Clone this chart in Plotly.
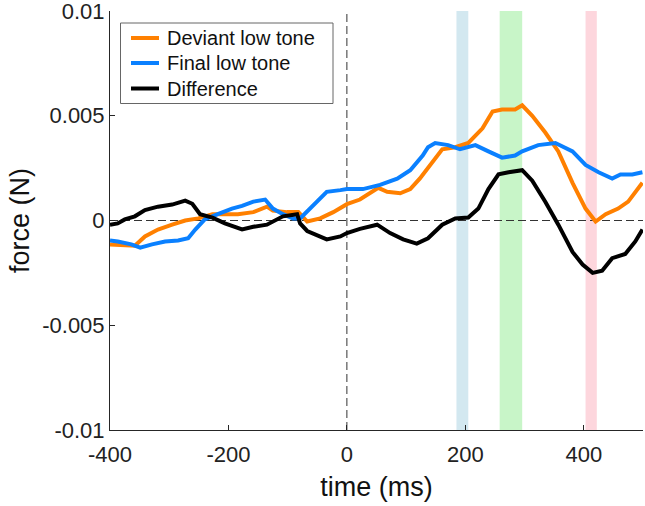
import plotly.graph_objects as go

# Deviant low tone (orange)
dev_x = [-400, -380, -358, -341, -319, -295, -273, -251, -227, -206, -184, -158, -135, -125, -101, -82, -67, -45, -23, 0, 22, 53, 68, 90, 107, 123, 140, 161, 183, 205, 229, 246, 262, 284, 296, 313, 335, 357, 381, 403, 420, 437, 458, 475, 499]
dev_y = [-0.00114, -0.00118, -0.0012, -0.00076, -0.00043, -0.0002, 0.0, 0.0001, 0.0003, 0.0003, 0.0003, 0.0004, 0.00066, 0.00047, 0.0004, 0.0004, -0.00005, 0.0001, 0.0004, 0.00078, 0.001, 0.00156, 0.00137, 0.0013, 0.0015, 0.002, 0.00265, 0.0034, 0.0035, 0.0037, 0.0044, 0.0052, 0.0053, 0.0053, 0.0055, 0.005, 0.0042, 0.0033, 0.0018, 0.00057, -0.00005, 0.0003, 0.00057, 0.0009, 0.0018]

# Final low tone (blue)
fin_x = [-400, -387, -364, -349, -329, -307, -285, -268, -256, -240, -218, -194, -177, -158, -138, -125, -108, -91, -79, -62, -45, -34, -11, 0, 27, 56, 85, 107, 128, 137, 149, 171, 191, 217, 239, 262, 284, 296, 323, 352, 381, 403, 425, 448, 462, 482, 499]
fin_y = [-0.00095, -0.001, -0.00114, -0.0013, -0.00114, -0.001, -0.00095, -0.00085, -0.00043, 0.00005, 0.0003, 0.00057, 0.0007, 0.0009, 0.001, 0.00057, 0.0003, 0.0001, 0.0001, 0.00057, 0.001, 0.00137, 0.00145, 0.0015, 0.0015, 0.0017, 0.002, 0.0024, 0.0031, 0.0035, 0.0037, 0.0036, 0.0034, 0.0036, 0.0033, 0.003, 0.0031, 0.0033, 0.0036, 0.0037, 0.0033, 0.00265, 0.0023, 0.002, 0.0022, 0.0022, 0.0023]

# Difference (black)
diff_x = [-400, -387, -375, -358, -341, -319, -295, -273, -261, -248, -227, -206, -177, -158, -135, -118, -108, -84, -79, -67, -45, -34, -11, 0, 22, 51, 73, 95, 118, 137, 161, 183, 205, 222, 239, 256, 273, 296, 313, 335, 357, 381, 398, 415, 431, 448, 470, 487, 499]
diff_y = [-0.0002, -0.00014, 0.00005, 0.0002, 0.0005, 0.00066, 0.00076, 0.00095, 0.0008, 0.0003, 0.00014, -0.00014, -0.00043, -0.0003, -0.0002, 0.00005, 0.0002, 0.0003, -0.00014, -0.0005, -0.00076, -0.0009, -0.00076, -0.0006, -0.0004, -0.0002, -0.0006, -0.0009, -0.0011, -0.00085, -0.0002, 0.0001, 0.00014, 0.00057, 0.0015, 0.0022, 0.0023, 0.0024, 0.0019, 0.0009, -0.0002, -0.0015, -0.0021, -0.0025, -0.0024, -0.0018, -0.0016, -0.001, -0.00043]

# Shaded windows (ms)
band_start = [185, 258, 403]
band_end = [205, 296, 422]
band_colors = ["#D3E8F0", "#C8F5C8", "#FDD6DD"]

series_names = ["Deviant low tone", "Final low tone", "Difference"]
series_colors = ["#FF8000", "#0A80FF", "#000000"]

x_ticks = [-400, -200, 0, 200, 400, 500]
x_tick_labels = ["-400", "-200", "0", "200", "400", ""]
y_ticks = [-0.01, -0.005, 0, 0.005, 0.01]
y_tick_labels = ["-0.01", "-0.005", "0", "0.005", "0.01"]

FONT = "Liberation Sans, Arial, Helvetica, sans-serif"
AX = "#262626"

# plot-area geometry in pixels (for the hand-made legend box)
W, H = 645, 506
ML, MR, MT, MB = 110, 2, 11, 76
PW, PH = W - ML - MR, H - MT - MB


def px(x):
    return (x - ML) / PW


def py(y):
    return (H - MB - y) / PH


fig = go.Figure()

shapes = []
for s, e, c in zip(band_start, band_end, band_colors):
    shapes.append(dict(type="rect", xref="x", yref="y", x0=s, x1=e, y0=-0.01, y1=0.01,
                       fillcolor=c, line=dict(width=0), layer="below"))
shapes.append(dict(type="line", xref="x", yref="y", x0=-400, x1=500, y0=0, y1=0,
                   line=dict(color="#333333", width=1, dash="8px,4px"), layer="below"))
shapes.append(dict(type="line", xref="x", yref="y", x0=0, x1=0, y0=-0.01, y1=0.01,
                   line=dict(color="#333333", width=1, dash="8px,4px"), layer="below"))

for xs, ys, nm, col in zip([dev_x, fin_x, diff_x], [dev_y, fin_y, diff_y], series_names, series_colors):
    fig.add_trace(go.Scatter(x=xs, y=ys, mode="lines", name=nm,
                             line=dict(color=col, width=4), showlegend=False))

# legend box
shapes.append(dict(type="rect", xref="paper", yref="paper",
                   x0=px(120.5), x1=px(333), y0=py(103.5), y1=py(23),
                   fillcolor="white", line=dict(color="#666666", width=1), layer="above"))
annotations = []
row_y = [38, 63, 88.5]
for ry, nm, col in zip(row_y, series_names, series_colors):
    shapes.append(dict(type="line", xref="paper", yref="paper",
                       x0=px(131), x1=px(159), y0=py(ry), y1=py(ry),
                       line=dict(color=col, width=4), layer="above"))
    annotations.append(dict(xref="paper", yref="paper", x=px(165), y=py(ry),
                            xanchor="left", yanchor="middle", showarrow=False, text=nm,
                            font=dict(family=FONT, size=20, color="#111111")))

fig.update_layout(
    width=W, height=H,
    margin=dict(l=ML, r=MR, t=MT, b=MB, autoexpand=False),
    plot_bgcolor="white", paper_bgcolor="white",
    font=dict(family=FONT, color=AX, size=21),
    shapes=shapes,
    annotations=annotations,
    showlegend=False,
    xaxis=dict(range=[-400, 500], tickvals=x_ticks, ticktext=x_tick_labels,
               ticks="inside", ticklen=5, tickcolor=AX, showline=True, linecolor=AX,
               linewidth=1, showgrid=False, zeroline=False, mirror=False,
               ticklabelstandoff=5, ticklabeloverflow="allow", automargin=False,
               tickfont=dict(size=22, color="#222222"),
               title=dict(text="time (ms)", font=dict(size=27, color="#111111"), standoff=10)),
    yaxis=dict(range=[-0.01, 0.01], tickvals=y_ticks, ticktext=y_tick_labels,
               ticks="inside", ticklen=5, tickcolor=AX, showline=True, linecolor=AX,
               linewidth=1, showgrid=False, zeroline=False, mirror=False,
               ticklabeloverflow="allow", automargin=False,
               tickfont=dict(size=22, color="#222222"),
               title=dict(text="force (N)", font=dict(size=27, color="#111111"), standoff=4)),
)

fig.write_html("out.html")
